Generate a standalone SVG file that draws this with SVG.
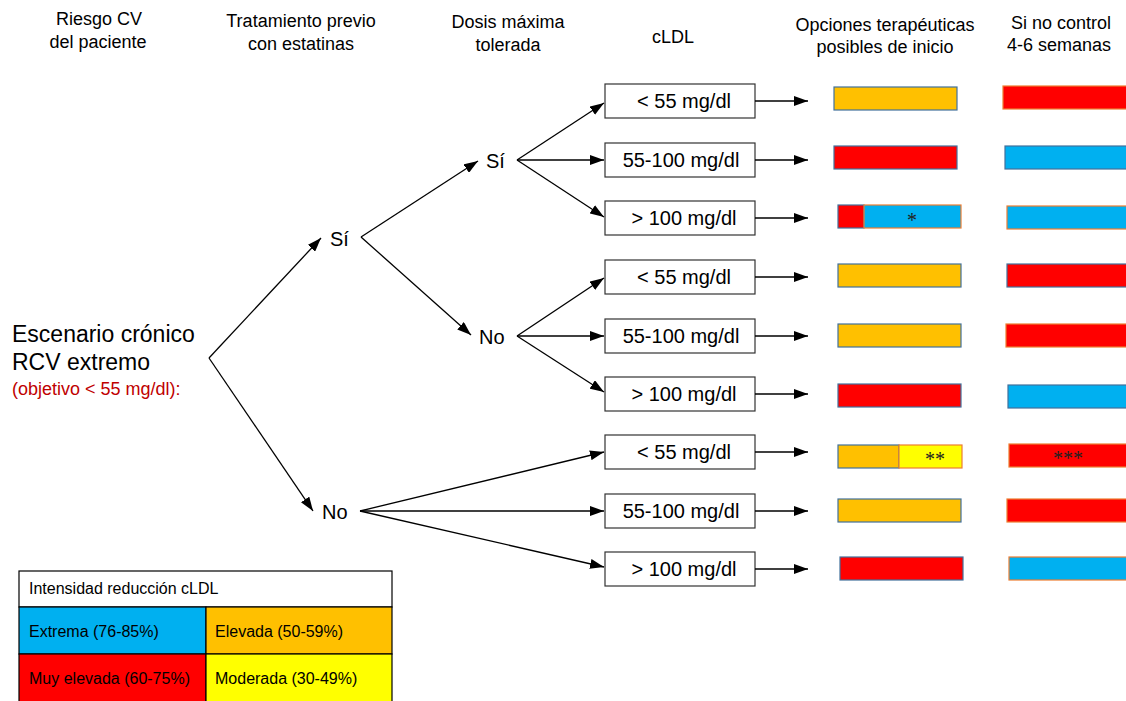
<svg xmlns="http://www.w3.org/2000/svg" width="1126" height="701" viewBox="0 0 1126 701">
<defs>
<marker id="ah" viewBox="0 0 14 10" refX="14" refY="5" markerWidth="14" markerHeight="10" markerUnits="userSpaceOnUse" orient="auto">
<path d="M0,0 L14,5 L0,10 z" fill="#000"/>
</marker>
<style>
text{font-family:"Liberation Sans",Arial,Helvetica,sans-serif;fill:#000}
.hdr{font-size:18px;text-anchor:middle}
.big{font-size:23px}
.lvl{font-size:20px}
.box{fill:#fff;stroke:#333;stroke-width:1.2}
.btxt{font-size:20px;text-anchor:middle}
.con line{stroke:#000;stroke-width:1.3;fill:none;marker-end:url(#ah)}
.or{fill:#FFC000}
.rd{fill:#FF0000}
.bl{fill:#00B0F0}
.ye{fill:#FFFF00}
.sb{stroke:#41719C;stroke-width:1.2}
.so{stroke:#ED7D31;stroke-width:1.2}
.ast{font-family:"Liberation Serif","Times New Roman",serif;font-size:20px;text-anchor:middle;fill:#222}
.leg{font-size:16px}
.cell{stroke:#000;stroke-width:1.2}
</style>
</defs>
<rect width="1126" height="701" fill="#fff"/>

<g id="headers">
<text class="hdr" x="99" y="25">Riesgo CV</text>
<text class="hdr" x="98" y="48">del paciente</text>
<text class="hdr" x="301" y="27">Tratamiento previo</text>
<text class="hdr" x="301" y="50">con estatinas</text>
<text class="hdr" x="508" y="28">Dosis máxima</text>
<text class="hdr" x="508" y="51">tolerada</text>
<text class="hdr" x="673" y="43">cLDL</text>
<text class="hdr" x="885" y="31">Opciones terapéuticas</text>
<text class="hdr" x="885" y="53">posibles de inicio</text>
<text class="hdr" x="1061" y="29">Si no control</text>
<text class="hdr" x="1059" y="51">4-6 semanas</text>
</g>

<g id="root">
<text class="big" x="12" y="342">Escenario crónico</text>
<text class="big" x="12" y="370">RCV extremo</text>
<text x="12" y="395" font-size="18" style="fill:#C00000">(objetivo &lt; 55 mg/dl):</text>
</g>

<g id="si1"><text class="lvl" x="330" y="246">Sí</text></g>
<g id="no1"><text class="lvl" x="322" y="519">No</text></g>
<g id="si2"><text class="lvl" x="486" y="168">Sí</text></g>
<g id="no2"><text class="lvl" x="479" y="344">No</text></g>

<g id="box1"><rect class="box" x="605" y="84" width="150" height="34"/><text class="btxt" x="684" y="108">&lt; 55 mg/dl</text></g>
<g id="box2"><rect class="box" x="605" y="143" width="150" height="34"/><text class="btxt" x="681" y="167">55-100 mg/dl</text></g>
<g id="box3"><rect class="box" x="605" y="201" width="150" height="34"/><text class="btxt" x="684" y="225">&gt; 100 mg/dl</text></g>
<g id="box4"><rect class="box" x="605" y="260" width="150" height="34"/><text class="btxt" x="684" y="284">&lt; 55 mg/dl</text></g>
<g id="box5"><rect class="box" x="605" y="319" width="150" height="34"/><text class="btxt" x="681" y="343">55-100 mg/dl</text></g>
<g id="box6"><rect class="box" x="605" y="377" width="150" height="34"/><text class="btxt" x="684" y="401">&gt; 100 mg/dl</text></g>
<g id="box7"><rect class="box" x="605" y="435" width="150" height="34"/><text class="btxt" x="684" y="459">&lt; 55 mg/dl</text></g>
<g id="box8"><rect class="box" x="605" y="494" width="150" height="34"/><text class="btxt" x="681" y="518">55-100 mg/dl</text></g>
<g id="box9"><rect class="box" x="605" y="552" width="150" height="34"/><text class="btxt" x="684" y="576">&gt; 100 mg/dl</text></g>

<g id="options">
<rect class="or sb" x="834" y="87" width="123" height="23"/>
<rect class="rd sb" x="834" y="146" width="123" height="23"/>
<rect class="rd sb" x="838" y="205" width="26" height="23"/>
<rect class="bl so" x="864" y="205" width="97" height="23"/>
<text class="ast" x="912" y="227">*</text>
<rect class="or sb" x="838" y="264" width="123" height="23"/>
<rect class="or sb" x="838" y="324" width="123" height="23"/>
<rect class="rd sb" x="838" y="384" width="123" height="23"/>
<rect class="or sb" x="838" y="445" width="61" height="23"/>
<rect class="ye so" x="899" y="445" width="63" height="23"/>
<text class="ast" x="935" y="466">**</text>
<rect class="or sb" x="838" y="499" width="123" height="23"/>
<rect class="rd sb" x="840" y="557" width="123" height="23"/>
</g>

<g id="ifnot">
<rect class="rd so" x="1003" y="86" width="130" height="23"/>
<rect class="bl sb" x="1005" y="146" width="130" height="23"/>
<rect class="bl so" x="1007" y="206" width="130" height="23"/>
<rect class="rd sb" x="1007" y="264" width="130" height="23"/>
<rect class="rd so" x="1006" y="324" width="130" height="23"/>
<rect class="bl sb" x="1008" y="385" width="130" height="23"/>
<rect class="rd so" x="1009" y="444" width="130" height="23"/>
<text class="ast" x="1068" y="465">***</text>
<rect class="rd so" x="1007" y="499" width="130" height="23"/>
<rect class="bl so" x="1009" y="557" width="130" height="23"/>
</g>

<g id="connectors" class="con">
<line x1="209" y1="358" x2="321" y2="238"/>
<line x1="209" y1="358" x2="313" y2="511"/>
<line x1="361" y1="237" x2="478" y2="161"/>
<line x1="361" y1="237" x2="471" y2="335"/>
<line x1="517" y1="160" x2="604" y2="103"/>
<line x1="517" y1="160" x2="604" y2="160"/>
<line x1="517" y1="160" x2="604" y2="217"/>
<line x1="517" y1="336" x2="604" y2="278"/>
<line x1="517" y1="336" x2="604" y2="336"/>
<line x1="517" y1="336" x2="604" y2="392"/>
<line x1="360" y1="511" x2="604" y2="452"/>
<line x1="360" y1="511" x2="604" y2="511"/>
<line x1="360" y1="511" x2="604" y2="567"/>
<line x1="755" y1="101" x2="808" y2="101"/>
<line x1="755" y1="160" x2="808" y2="160"/>
<line x1="755" y1="218" x2="808" y2="218"/>
<line x1="755" y1="277" x2="808" y2="277"/>
<line x1="755" y1="336" x2="808" y2="336"/>
<line x1="755" y1="394" x2="808" y2="394"/>
<line x1="755" y1="452" x2="808" y2="452"/>
<line x1="755" y1="511" x2="808" y2="511"/>
<line x1="755" y1="569" x2="808" y2="569"/>
</g>

<g id="legend">
<rect class="cell" x="19" y="571" width="373" height="36" fill="#fff"/>
<rect class="cell bl" x="19" y="607" width="187" height="47"/>
<rect class="cell or" x="206" y="607" width="186" height="47"/>
<rect class="cell rd" x="19" y="654" width="187" height="50"/>
<rect class="cell ye" x="206" y="654" width="186" height="50"/>
<text class="leg" x="29" y="594">Intensidad reducción cLDL</text>
<text class="leg" x="29" y="637">Extrema (76-85%)</text>
<text class="leg" x="215" y="637">Elevada (50-59%)</text>
<text class="leg" x="29" y="684">Muy elevada (60-75%)</text>
<text class="leg" x="215" y="684">Moderada (30-49%)</text>
</g>
</svg>
